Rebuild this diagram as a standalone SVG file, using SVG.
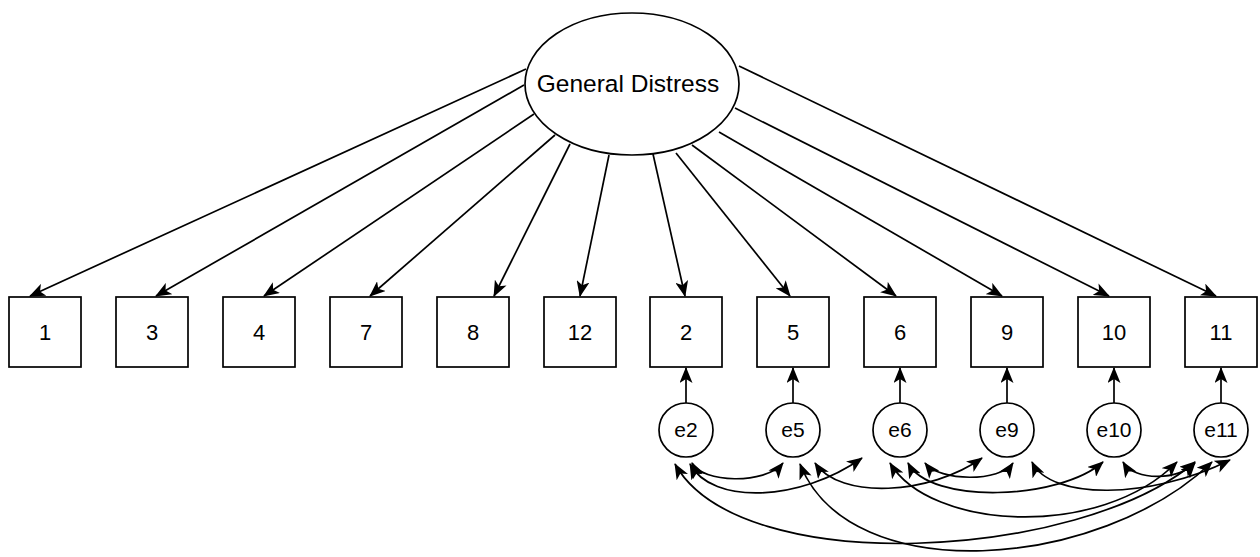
<svg xmlns="http://www.w3.org/2000/svg" width="1260" height="557" viewBox="0 0 1260 557">
  <style>
    .node { fill: #ffffff; stroke: #000000; stroke-width: 1.7; }
    .lbl { font-family: "Liberation Sans", Arial, sans-serif; font-size: 22px; fill: #000000; text-anchor: middle; }
    .small { font-size: 21px; }
    .big { font-size: 24.5px; }
    .edge { fill: none; stroke: #000000; stroke-width: 1.7; }
    .one { marker-end: url(#head); }
    .two { marker-start: url(#head); marker-end: url(#head); }
  </style>
  <defs>
    <marker id="head" viewBox="0 0 16 13" refX="15" refY="6.5" markerWidth="16" markerHeight="13" markerUnits="userSpaceOnUse" orient="auto-start-reverse">
      <path d="M0,0 L16,6.5 L0,13 L4,6.5 Z" fill="#000000"/>
    </marker>
  </defs>

  <!-- factor loadings and error paths -->
  <g id="connectors">
    <line class="edge one" x1="526" y1="69" x2="30" y2="296"/>
    <line class="edge one" x1="524" y1="85" x2="156" y2="296"/>
    <line class="edge one" x1="534" y1="114" x2="264" y2="296"/>
    <line class="edge one" x1="555" y1="135" x2="370" y2="296"/>
    <line class="edge one" x1="570" y1="144" x2="494" y2="296"/>
    <line class="edge one" x1="609" y1="155" x2="580" y2="296"/>
    <line class="edge one" x1="653" y1="154" x2="685" y2="296"/>
    <line class="edge one" x1="676" y1="153" x2="790" y2="296"/>
    <line class="edge one" x1="692" y1="145" x2="896" y2="296"/>
    <line class="edge one" x1="719" y1="132" x2="1002" y2="296"/>
    <line class="edge one" x1="735" y1="108" x2="1109" y2="296"/>
    <line class="edge one" x1="739" y1="66" x2="1216" y2="296"/>

    <line class="edge one" x1="686" y1="403" x2="686" y2="368"/>
    <line class="edge one" x1="793" y1="403" x2="793" y2="368"/>
    <line class="edge one" x1="900" y1="403" x2="900" y2="368"/>
    <line class="edge one" x1="1007" y1="403" x2="1007" y2="368"/>
    <line class="edge one" x1="1114" y1="403" x2="1114" y2="368"/>
    <line class="edge one" x1="1221" y1="403" x2="1221" y2="368"/>

    <!-- error covariances -->
    <path class="edge two" d="M692,463 C702,483 765,485 783,463"/>
    <path class="edge two" d="M690,464 C712,505 800,502 862,458"/>
    <path class="edge two" d="M675,464 C740,580 1080,560 1195,462"/>
    <path class="edge two" d="M800,464 C850,590 1100,570 1212,462"/>
    <path class="edge two" d="M815,463 C840,500 930,495 982,458"/>
    <path class="edge two" d="M925,463 C940,482 1000,482 1013,463"/>
    <path class="edge two" d="M908,463 C930,505 1060,500 1103,462"/>
    <path class="edge two" d="M890,463 C930,530 1100,540 1177,462"/>
    <path class="edge two" d="M1032,462 C1050,500 1150,500 1230,460"/>
    <path class="edge two" d="M1123,462 C1135,482 1180,480 1195,463"/>
  </g>

  <g id="general-distress">
    <ellipse class="node" cx="632" cy="84" rx="107" ry="71"/>
    <text class="lbl big" x="628" y="92">General Distress</text>
  </g>

  <g id="item-1"><rect class="node" x="9" y="297" width="72" height="70"/><text class="lbl" x="45" y="340">1</text></g>
  <g id="item-3"><rect class="node" x="116" y="297" width="72" height="70"/><text class="lbl" x="152" y="340">3</text></g>
  <g id="item-4"><rect class="node" x="223" y="297" width="72" height="70"/><text class="lbl" x="259" y="340">4</text></g>
  <g id="item-7"><rect class="node" x="330" y="297" width="72" height="70"/><text class="lbl" x="366" y="340">7</text></g>
  <g id="item-8"><rect class="node" x="437" y="297" width="72" height="70"/><text class="lbl" x="473" y="340">8</text></g>
  <g id="item-12"><rect class="node" x="544" y="297" width="72" height="70"/><text class="lbl" x="580" y="340">12</text></g>
  <g id="item-2"><rect class="node" x="650" y="297" width="72" height="70"/><text class="lbl" x="686" y="340">2</text></g>
  <g id="item-5"><rect class="node" x="757" y="297" width="72" height="70"/><text class="lbl" x="793" y="340">5</text></g>
  <g id="item-6"><rect class="node" x="864" y="297" width="72" height="70"/><text class="lbl" x="900" y="340">6</text></g>
  <g id="item-9"><rect class="node" x="971" y="297" width="72" height="70"/><text class="lbl" x="1007" y="340">9</text></g>
  <g id="item-10"><rect class="node" x="1078" y="297" width="72" height="70"/><text class="lbl" x="1114" y="340">10</text></g>
  <g id="item-11"><rect class="node" x="1185" y="297" width="72" height="70"/><text class="lbl" x="1221" y="340">11</text></g>

  <g id="e2"><circle class="node" cx="686" cy="430" r="27"/><text class="lbl small" x="686" y="437">e2</text></g>
  <g id="e5"><circle class="node" cx="793" cy="430" r="27"/><text class="lbl small" x="793" y="437">e5</text></g>
  <g id="e6"><circle class="node" cx="900" cy="430" r="27"/><text class="lbl small" x="900" y="437">e6</text></g>
  <g id="e9"><circle class="node" cx="1007" cy="430" r="27"/><text class="lbl small" x="1007" y="437">e9</text></g>
  <g id="e10"><circle class="node" cx="1114" cy="430" r="27"/><text class="lbl small" x="1114" y="437">e10</text></g>
  <g id="e11"><circle class="node" cx="1221" cy="430" r="27"/><text class="lbl small" x="1221" y="437">e11</text></g>
</svg>
